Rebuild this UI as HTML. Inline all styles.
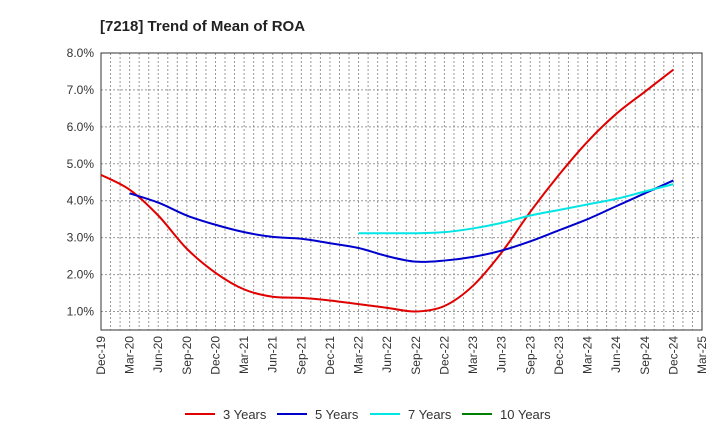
<!DOCTYPE html>
<html><head><meta charset="utf-8"><style>
body{margin:0;background:#fff;font-family:"Liberation Sans",Arial,sans-serif}
svg text{font-family:"Liberation Sans",Arial,sans-serif}
</style></head><body>
<svg id="c" width="720" height="440" xmlns="http://www.w3.org/2000/svg">
<text x="100" y="31" font-size="15" font-weight="bold" fill="#222">[7218]  Trend of Mean of ROA</text>
<g id="grid"></g><g id="axes"></g><g id="series"></g><g id="legend"></g>
</svg>
<script>
const xLabels=["Dec-19","Mar-20","Jun-20","Sep-20","Dec-20","Mar-21","Jun-21","Sep-21","Dec-21","Mar-22","Jun-22","Sep-22","Dec-22","Mar-23","Jun-23","Sep-23","Dec-23","Mar-24","Jun-24","Sep-24","Dec-24","Mar-25"];
const yTicks=[1,2,3,4,5,6,7,8];
const s3=[4.7,4.3,3.6,2.7,2.05,1.6,1.4,1.37,1.3,1.2,1.1,1.0,1.15,1.7,2.6,3.7,4.7,5.6,6.35,6.95,7.55];
const s5=[null,4.2,3.95,3.6,3.35,3.15,3.02,2.97,2.85,2.72,2.5,2.35,2.38,2.48,2.65,2.9,3.2,3.5,3.85,4.2,4.55];
const s7=[null,null,null,null,null,null,null,null,null,3.12,3.12,3.12,3.15,3.25,3.4,3.6,3.75,3.9,4.05,4.25,4.45];
const s10=[];
const L=101,R=702,T=53,B=330,yMin=0.5,yMax=8;
const NS="http://www.w3.org/2000/svg";
const xS=i=>L+i*(R-L)/(xLabels.length-1);
const yS=v=>B-(v-yMin)*(B-T)/(yMax-yMin);
function mk(t,a,p){const e=document.createElementNS(NS,t);for(const k in a)e.setAttribute(k,a[k]);p.appendChild(e);return e;}
const g=document.getElementById('grid'),ax=document.getElementById('axes'),se=document.getElementById('series'),lg=document.getElementById('legend');
for(let m=1;m<(xLabels.length-1)*3;m++){const x=L+m*(R-L)/((xLabels.length-1)*3);
const l=mk('line',{x1:x,x2:x,y1:T,y2:B,stroke:'#999','stroke-dasharray':'2,2','stroke-width':1},g);

}
yTicks.forEach(v=>{const y=yS(v);
const l=mk('line',{x1:L,x2:R,y1:y,y2:y,stroke:'#999','stroke-dasharray':'2,2','stroke-width':1},g);


const t=mk('text',{x:L-7,y:y+4,'text-anchor':'end','font-size':12,fill:'#333'},ax);t.textContent=v.toFixed(1)+'%';

});
const fr=mk('rect',{x:L,y:T,width:R-L,height:B-T,fill:'none',stroke:'#333','stroke-width':1},ax);


xLabels.forEach((s,i)=>{const x=xS(i);const t=mk('text',{x:x+4,y:B+6,'text-anchor':'end','font-size':12,fill:'#333',transform:`rotate(-90 ${x+4} ${B+6})`},ax);t.textContent=s;

});
function path(arr){const p=[];arr.forEach((v,i)=>{if(v!=null)p.push([xS(i),yS(v)]);});if(p.length<2)return '';
let d=`M${p[0][0]},${p[0][1]}`;for(let i=0;i<p.length-1;i++){const p0=p[i-1]||p[i],p1=p[i],p2=p[i+1],p3=p[i+2]||p2;
d+=` C${p1[0]+(p2[0]-p0[0])/6},${p1[1]+(p2[1]-p0[1])/6} ${p2[0]-(p3[0]-p1[0])/6},${p2[1]-(p3[1]-p1[1])/6} ${p2[0]},${p2[1]}`;}return d;}
const series=[[s3,'#e00000','3 Years','line-3-years'],[s5,'#0000cc','5 Years','line-5-years'],[s7,'#00e5e5','7 Years','line-7-years'],[s10,'#008000','10 Years','line-10-years']];
series.forEach(([a,c,n,id],k)=>{const d=path(a);if(d){const p=mk('path',{d,fill:'none',stroke:c,'stroke-width':2},se);

}
const lx=[185,277,370,462][k];
const ll=mk('line',{x1:lx,x2:lx+30,y1:414,y2:414,stroke:c,'stroke-width':2},lg);


const t=mk('text',{x:lx+38,y:419,'font-size':13,fill:'#333'},lg);t.textContent=n;

});
</script>
</body></html>
